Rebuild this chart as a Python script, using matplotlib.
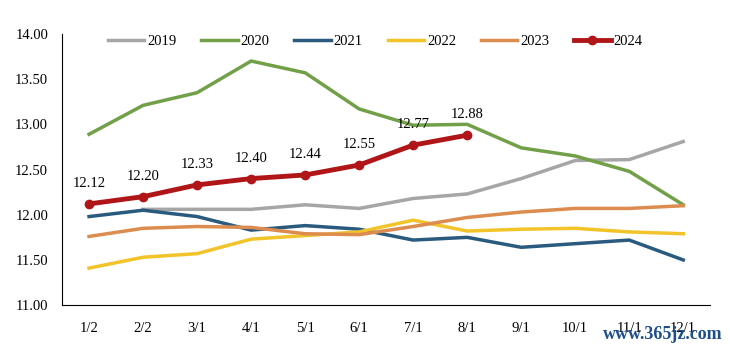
import numpy as np
from matplotlib import pyplot as plt

plt.rcParams['font.family'] = ['Liberation Serif', 'DejaVu Serif']

months = ['1/2', '2/2', '3/1', '4/1', '5/1', '6/1', '7/1', '8/1', '9/1', '10/1', '11/1', '12/1']

y2019 = [np.nan, 12.06, 12.06, 12.06, 12.11, 12.07, 12.18, 12.23, 12.40, 12.60, 12.61, 12.81]
y2020 = [12.89, 13.21, 13.35, 13.70, 13.57, 13.17, 12.99, 13.00, 12.74, 12.65, 12.48, 12.11]
y2021 = [11.98, 12.05, 11.98, 11.83, 11.88, 11.84, 11.72, 11.75, 11.64, 11.68, 11.72, 11.50]
y2022 = [11.41, 11.53, 11.57, 11.73, 11.77, 11.81, 11.94, 11.82, 11.84, 11.85, 11.81, 11.79]
y2023 = [11.76, 11.85, 11.87, 11.86, 11.79, 11.78, 11.87, 11.97, 12.03, 12.07, 12.07, 12.10]
y2024 = [12.12, 12.20, 12.33, 12.40, 12.44, 12.55, 12.77, 12.88]

x = np.arange(len(months))

fig = plt.figure(figsize=(7.3, 3.46), dpi=100)
ax = fig.add_axes([0.085, 0.118, 0.888, 0.784])

ax.plot(x, y2019, color='#A6A6A6', lw=2.5, label='2019')
ax.plot(x, y2020, color='#72A048', lw=2.5, label='2020')
ax.plot(x, y2021, color='#2A5B7E', lw=2.5, label='2021')
ax.plot(x, y2022, color='#F2C42A', lw=2.5, label='2022')
ax.plot(x, y2023, color='#DB8C4E', lw=2.5, label='2023')
ax.plot(x[:len(y2024)], y2024, color='#B01518', lw=3.5, marker='o', ms=6, label='2024')

for xi, v in zip(x, y2024):
    ax.annotate('%.2f' % v, (xi, v), xytext=(0, 10), textcoords='offset points',
                ha='center', va='bottom', fontsize=10.5)

ax.set_xlim(-0.5, 11.5)
ax.set_ylim(11, 14)
ax.set_yticks(np.arange(11, 14.01, 0.5))
ax.set_yticklabels(['%.2f' % t for t in np.arange(11, 14.01, 0.5)], fontsize=10.5)
ax.set_xticks(x)
ax.set_xticklabels(months, fontsize=10.5)
ax.tick_params(length=0)
ax.tick_params(axis='x', pad=12)
ax.tick_params(axis='y', pad=10)
for s in ['top', 'right']:
    ax.spines[s].set_visible(False)

fig.legend(loc='center', bbox_to_anchor=(0.514, 0.88), ncol=6, frameon=False,
           fontsize=10.5, handlelength=2.5, handletextpad=0.2, columnspacing=1.7)

fig.text(0.99, 0.01, 'www.365jz.com', ha='right', va='bottom', fontsize=13,
         color='#1F4E8C', fontweight='bold')

fig.savefig('out.png', dpi=100)
